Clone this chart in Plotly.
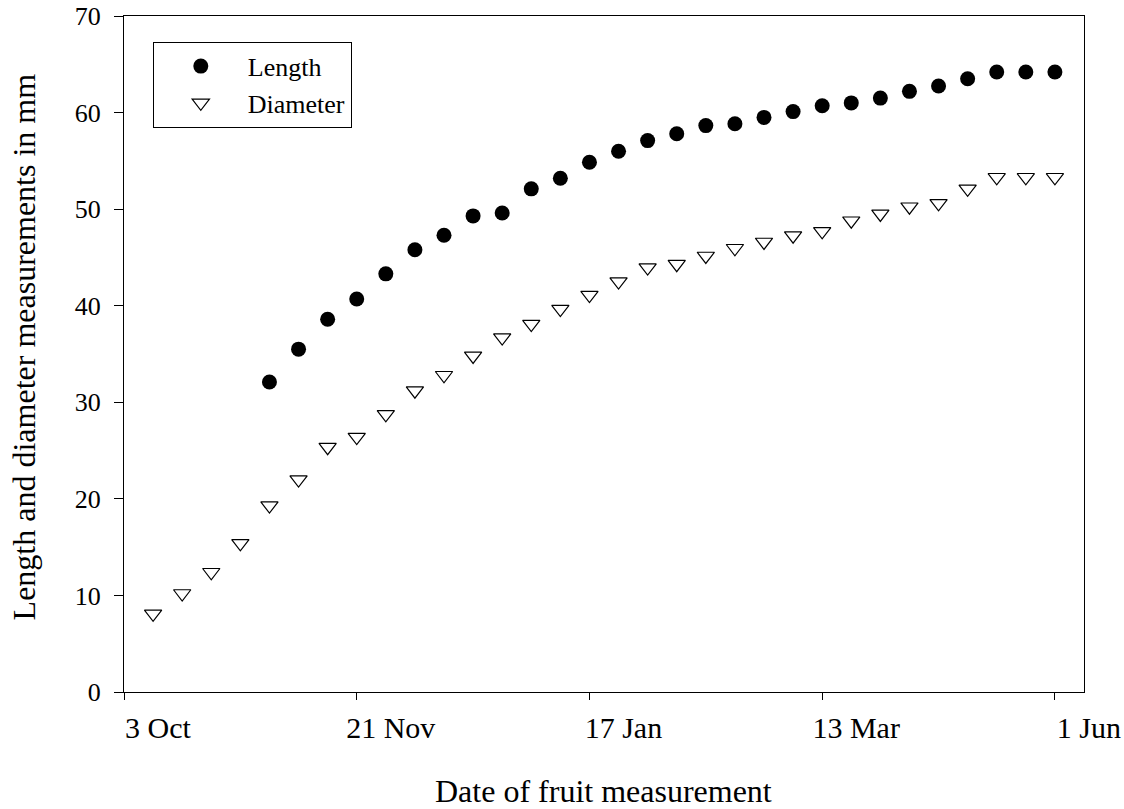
import plotly.graph_objects as go

# ---- data (x = measurement number, weekly-ish sampling) ----
tick_positions = [0, 8, 16, 24, 32]
tick_labels = ["3 Oct", "21 Nov", "17 Jan", "13 Mar", "1 Jun"]

diameter_x = list(range(1, 33))
diameter_mm = [8.1, 10.2, 12.4, 15.4, 19.3, 22.0, 25.35, 26.4, 28.75, 31.2,
               32.8, 34.8, 36.7, 38.1, 39.65, 41.1, 42.5, 43.95, 44.3, 45.15,
               45.95, 46.6, 47.25, 47.7, 48.8, 49.5, 50.25, 50.6, 52.1, 53.3,
               53.3, 53.3]

length_x = list(range(5, 33))
length_mm = [32.1, 35.5, 38.6, 40.7, 43.3, 45.8, 47.3, 49.3, 49.6, 52.1,
             53.2, 54.85, 56.0, 57.1, 57.8, 58.65, 58.85, 59.5, 60.1, 60.7,
             61.0, 61.5, 62.2, 62.75, 63.5, 64.2, 64.2, 64.2]

FONT = "Liberation Serif, Times New Roman, serif"

fig = go.Figure()
fig.add_trace(go.Scatter(
    x=length_x, y=length_mm, mode="markers", name="Length",
    marker=dict(symbol="circle", size=15, color="black",
                line=dict(color="black", width=0)),
))
fig.add_trace(go.Scatter(
    x=diameter_x, y=diameter_mm, mode="markers", name="Diameter",
    marker=dict(symbol="triangle-down", size=15, color="white",
                line=dict(color="black", width=1.2)),
))

fig.update_layout(
    width=1124, height=809,
    margin=dict(l=124, r=40, t=16, b=117),
    paper_bgcolor="white", plot_bgcolor="white",
    font=dict(family=FONT, color="black"),
    showlegend=True,
    legend=dict(
        x=0.030, y=0.962, xanchor="left", yanchor="top",
        bordercolor="black", borderwidth=1, bgcolor="white",
        font=dict(family=FONT, size=26, color="black"),
        itemwidth=84, tracegroupgap=0,
    ),
    xaxis=dict(
        range=[0, 33], tickmode="array", tickvals=tick_positions,
        ticktext=tick_labels, showgrid=False, zeroline=False,
        showline=True, linecolor="black", linewidth=1.2, mirror=True,
        ticks="outside", ticklen=7, tickwidth=1.2, tickcolor="black",
        tickfont=dict(family=FONT, size=30, color="black"),
        ticklabelshift=34, ticklabelstandoff=2, automargin=False,
    ),
    yaxis=dict(
        range=[0, 70], tickmode="array", tickvals=[0, 10, 20, 30, 40, 50, 60, 70],
        showgrid=False, zeroline=False,
        showline=True, linecolor="black", linewidth=1.2, mirror=True,
        ticks="outside", ticklen=9, tickwidth=1.2, tickcolor="black",
        tickfont=dict(family=FONT, size=26, color="black"),
        ticklabelstandoff=8, automargin=False,
    ),
    annotations=[
        dict(text="Date of fruit measurement", xref="paper", yref="paper",
             x=0.499, y=-0.1464, xanchor="center", yanchor="middle",
             showarrow=False, font=dict(family=FONT, size=32, color="black")),
        dict(text="Length and diameter measurements in mm", xref="paper", yref="paper",
             x=-0.104, y=0.51, xanchor="center", yanchor="middle", textangle=-90,
             showarrow=False, font=dict(family=FONT, size=32, color="black")),
    ],
)

fig.write_html("out.html")
